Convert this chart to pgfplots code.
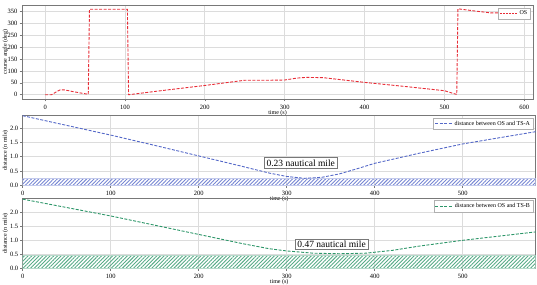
\documentclass[border=0pt]{standalone}
\usepackage{fontspec}
\setmainfont{Liberation Serif}
\usepackage{pgfplots}
\pgfplotsset{compat=1.18}
\usetikzlibrary{patterns.meta}
\definecolor{osred}{RGB}{232,45,55}
\definecolor{tsblue}{RGB}{85,105,200}
\definecolor{tsgreen}{RGB}{45,150,105}
\definecolor{spine}{RGB}{120,120,120}
\definecolor{gridc}{RGB}{220,220,220}
\pgfplotsset{
  common/.style={
    scale only axis,
    /pgf/number format/assume math mode=true,
    axis line style={spine, line width=0.8pt},
    grid=major,
    major grid style={gridc, line width=0.8pt},
    tick style={spine, line width=0.6pt},
    major tick length=2.5pt,
    tick align=outside,
    xtick pos=bottom, ytick pos=left,
    tick label style={font=\fontsize{6.5}{7}\selectfont},
    yticklabel style={xshift=1.5pt},
    label style={font=\fontsize{6}{7}\selectfont},
    xlabel={time (s)},
    xlabel style={yshift=6pt},
    legend style={font=\fontsize{6}{6.5}\selectfont, draw=gridc!80!black, at={(0.995,0.97)}, anchor=north east, inner sep=1pt, row sep=-1pt},
    legend cell align=left,
  },
  dline/.style={line width=0.9pt, dash pattern=on 3pt off 1.5pt},
}
\begin{document}
\begin{tikzpicture}
\useasboundingbox (0pt,0pt) rectangle (537pt,284pt);
% Panel 1
\begin{axis}[common, at={(22pt,185pt)}, anchor=south west, width=511pt, height=94pt,
  xmin=-29, xmax=611, ymin=-18, ymax=378,
  xtick={0,100,...,600}, ytick={0,50,...,350},
  ylabel={course angle (deg)},
  ylabel style={at={(axis description cs:-0.0325,0.5)}, anchor=center},
  legend image post style={dash pattern=on 2pt off 1pt}]
\addplot[osred, dline] coordinates {
(0,0) (8,0) (14,12) (19,21) (25,20) (35,13) (45,7) (54,2) (55.5,360) (103,360) (104.5,0)
(150,19) (200,39) (250,61) (280,61) (300,62) (315,70) (327,73) (348,72)
(400,52) (450,35) (500,17) (515.5,1) (517,362) (540,352) (558,345) (582,345)};
\addlegendentry{OS}
\end{axis}
% Panel 2
\begin{axis}[common, at={(22.7pt,98.7pt)}, anchor=south west, width=513pt, height=69.6pt,
  xmin=0, xmax=583, ymin=0, ymax=2.44,
  xtick={0,100,...,500}, ytick={0,0.5,...,2.0},
  yticklabel style={/pgf/number format/.cd, fixed, fixed zerofill, precision=1},
  ylabel={distance (n mile)},
  ylabel style={at={(axis description cs:-0.0335,0.5)}, anchor=center}]
\addplot[forget plot, draw=tsblue!35, line width=0.5pt, pattern={Lines[angle=45,distance=2.6pt,line width=0.9pt]}, pattern color=tsblue!80]
  coordinates {(0,0.23) (583,0.23)} \closedcycle;
\addplot[tsblue, dline] coordinates {
(0,2.44) (50,2.10) (100,1.76) (150,1.40) (200,1.03) (250,0.66) (280,0.43) (300,0.31)
(320,0.245) (340,0.28) (360,0.40) (380,0.58) (400,0.77) (450,1.12) (500,1.45) (550,1.71) (583,1.88)};
\addlegendentry{distance between OS and TS-A}
\node[draw=spine, fill=white, font=\fontsize{9.5}{10}\selectfont, inner sep=2pt] at (axis cs:316,0.78) {0.23 nautical mile};
\end{axis}
% Panel 3
\begin{axis}[common, at={(22.7pt,15.7pt)}, anchor=south west, width=513pt, height=70pt,
  xmin=0, xmax=583, ymin=0, ymax=2.5,
  xtick={0,100,...,500}, ytick={0,0.5,...,2.0},
  yticklabel style={/pgf/number format/.cd, fixed, fixed zerofill, precision=1},
  ylabel={distance (n mile)},
  ylabel style={at={(axis description cs:-0.0335,0.5)}, anchor=center}]
\addplot[forget plot, draw=tsgreen!35, line width=0.5pt, pattern={Lines[angle=45,distance=2.6pt,line width=0.9pt]}, pattern color=tsgreen!80]
  coordinates {(0,0.47) (583,0.47)} \closedcycle;
\addplot[tsgreen, dline] coordinates {
(0,2.47) (50,2.17) (100,1.87) (150,1.54) (200,1.21) (250,0.88) (280,0.70) (300,0.62)
(330,0.54) (360,0.52) (390,0.54) (420,0.64) (450,0.79) (500,1.00) (550,1.18) (583,1.30)};
\addlegendentry{distance between OS and TS-B}
\node[draw=spine, fill=white, font=\fontsize{9.5}{10}\selectfont, inner sep=2pt] at (axis cs:351,0.86) {0.47 nautical mile};
\end{axis}
\end{tikzpicture}
\end{document}
